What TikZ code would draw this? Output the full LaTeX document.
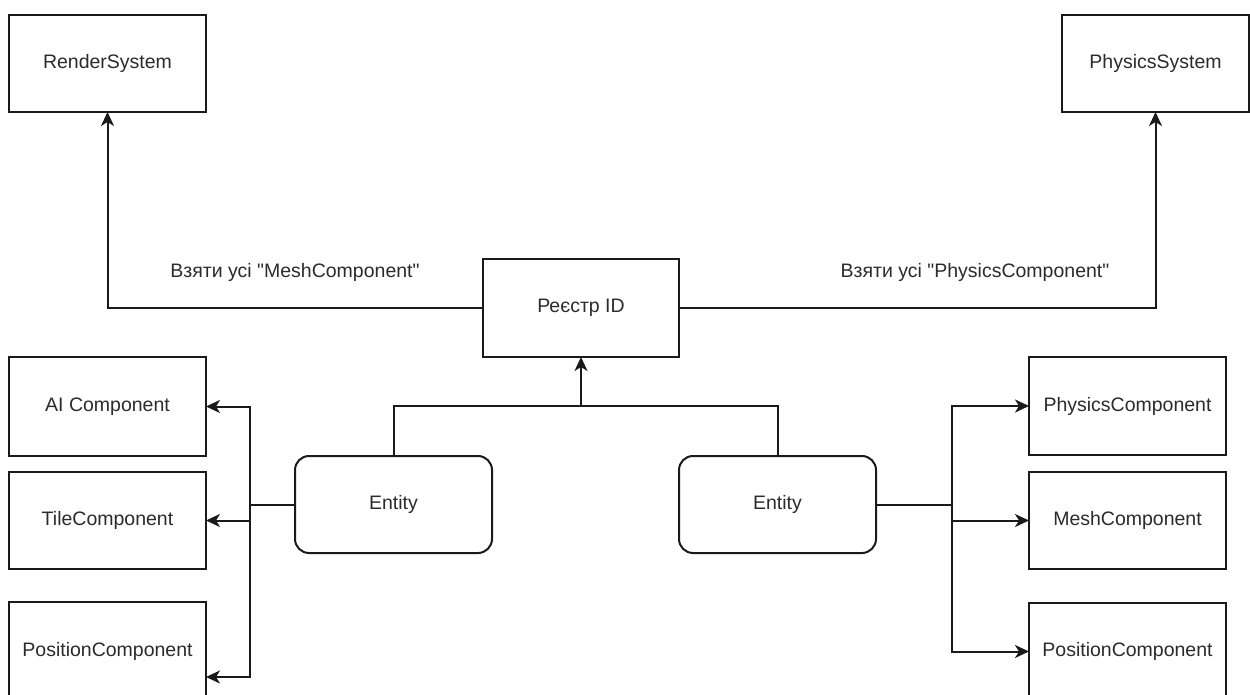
\documentclass[tikz,border=0pt]{standalone}
\usepackage{fontspec}
\setmainfont{Liberation Sans}[Ligatures=TeXOff]
\usetikzlibrary{arrows.meta}
\definecolor{ink}{HTML}{1A1A1A}
\definecolor{txt}{HTML}{2B2B2B}
\begin{document}
\begin{tikzpicture}[x=1pt,y=-1pt,
  every node/.style={font=\fontsize{19.5}{23}\selectfont, text=txt},
  box/.style={draw=ink, line width=2pt, rectangle, inner sep=0pt, outer sep=0pt,
              minimum width=197pt, minimum height=98pt, fill=white},
  entitybox/.style={box, rounded corners=14pt},
  wire/.style={draw=ink, line width=2pt},
  arr/.style={wire, -{Stealth[length=14pt,width=13pt,inset=4pt]}},
  lbl/.style={inner sep=0pt}
]
\useasboundingbox (0,0) rectangle (1250,695);
\clip (0,0) rectangle (1250,695);

% systems
\node[box, minimum height=97pt] (render) at (107.5,63.5) {RenderSystem};
\node[box, minimum width=187pt, minimum height=97pt] (physsys) at (1155.5,63.5) {PhysicsSystem};

% registry
\node[box, minimum width=196pt] (reg) at (581,308) {Реєстр ID};

% left components
\node[box, minimum height=99pt] (ai)   at (107.5,406.5) {AI Component};
\node[box, minimum height=97pt] (tile) at (107.5,520.5) {TileComponent};
\node[box] (posL) at (107.5,651) {PositionComponent};

% entities
\node[entitybox, minimum height=97pt] (entL) at (393.5,504.5) {Entity};
\node[entitybox, minimum height=97pt] (entR) at (777.5,504.5) {Entity};

% right components
\node[box] (physC) at (1127.5,406) {PhysicsComponent};
\node[box, minimum height=97pt] (meshC) at (1127.5,520.5) {MeshComponent};
\node[box] (posR)  at (1127.5,651.5) {PositionComponent};

% query labels
\node[lbl] (qmesh) at (295,272) {Взяти усі "MeshComponent"};
\node[lbl] (qphys) at (975,272) {Взяти усі "PhysicsComponent"};

% registry to systems
\draw[arr] (reg.west) -| (render.south);
\draw[arr] (reg.east) -| (physsys.south);

% entities to registry
\coordinate (bus) at (581,406);
\draw[wire] (entL.north) |- (bus) -| (entR.north);
\draw[arr] (bus) -- (reg.south);

% left entity to its components
\coordinate (lbus) at (250,504.5);
\draw[wire] (entL.west) -- (lbus);
\draw[arr] (lbus) |- (ai.east);
\draw[arr] (lbus) |- (tile.east);
\draw[arr] (lbus) |- ([yshift=-26pt]posL.east);

% right entity to its components
\coordinate (rbus) at (952,504.5);
\draw[wire] (entR.east) -- (rbus);
\draw[arr] (rbus) |- (physC.west);
\draw[arr] (rbus) |- (meshC.west);
\draw[arr] (rbus) |- (posR.west);
\end{tikzpicture}
\end{document}
